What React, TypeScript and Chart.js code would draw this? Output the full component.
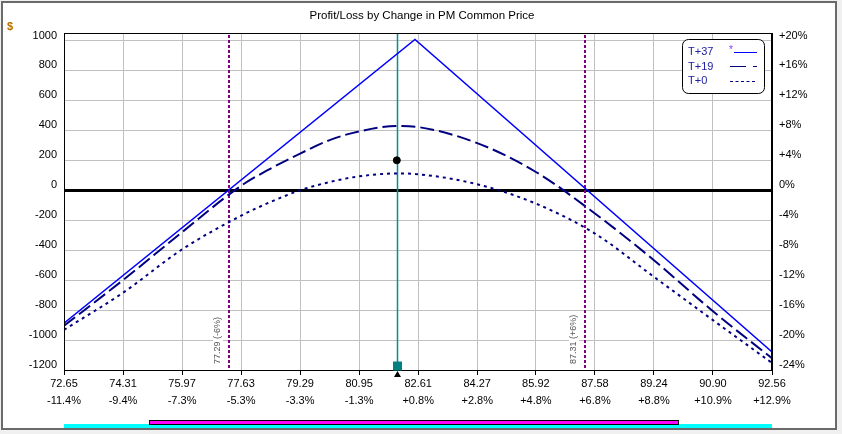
import { useEffect, useRef } from 'react';
import { Chart, registerables } from 'chart.js';

Chart.register(...registerables);

const chartTitle = 'Profit/Loss by Change in PM Common Price';
const yUnitLabel = '$';

const xTickValues = [72.65, 74.31, 75.97, 77.63, 79.29, 80.95, 82.61, 84.27, 85.92, 87.58, 89.24, 90.9, 92.56];
const xTickPrices = ['72.65', '74.31', '75.97', '77.63', '79.29', '80.95', '82.61', '84.27', '85.92', '87.58', '89.24', '90.90', '92.56'];
const xTickPercents = ['-11.4%', '-9.4%', '-7.3%', '-5.3%', '-3.3%', '-1.3%', '+0.8%', '+2.8%', '+4.8%', '+6.8%', '+8.8%', '+10.9%', '+12.9%'];

const yTickValues = [-1200, -1000, -800, -600, -400, -200, 0, 200, 400, 600, 800, 1000];
const y2TickLabels = ['-24%', '-20%', '-16%', '-12%', '-8%', '-4%', '0%', '+4%', '+8%', '+12%', '+16%', '+20%'];

const seriesNames = ['T+37', 'T+19', 'T+0'];

const t37Prices = [72.65, 82.52, 92.56];
const t37Values = [-888, 1007, -1080];

const curvePrices = [72.65, 74.31, 75.97, 77.63, 78.46, 79.29, 80.12, 80.95, 82.01, 82.61, 84.27, 85.92, 87.58, 89.24, 90.9, 92.56];
const t19Values = [-905, -600, -280, 30, 145, 245, 335, 393, 429, 422, 315, 122, -155, -467, -808, -1122];
const t0Values = [-932, -684, -395, -170, -78, 0, 55, 93, 112, 107, 40, -89, -289, -578, -867, -1153];

const currentPrice = 82.01;
const currentPL = 200;
const sigmaPrices = [77.29, 87.31];
const sigmaLabels = ['77.29 (-6%)', '87.31 (+6%)'];
const magentaRange = [75.04, 89.94];
const cyanRange = [72.65, 92.56];

const FONT = '"Liberation Sans", Arial, sans-serif';

const decorPlugin = {
  id: 'decor',
  beforeDraw(chart: any) {
    const ctx = chart.ctx;
    ctx.save();
    ctx.fillStyle = '#f0f0f0';
    ctx.fillRect(0, 0, chart.width, chart.height);
    ctx.fillStyle = '#ffffff';
    ctx.fillRect(2, 2, 834, 427);
    ctx.strokeStyle = '#6a6a6a';
    ctx.lineWidth = 2;
    ctx.strokeRect(2, 2, 834, 427);
    ctx.restore();
  },
  beforeDatasetsDraw(chart: any) {
    const { ctx, chartArea: a, scales } = chart;
    const x = scales.x;
    ctx.save();
    ctx.strokeStyle = '#800080';
    ctx.lineWidth = 2;
    ctx.setLineDash([3, 2]);
    sigmaPrices.forEach((p) => {
      const px = Math.round(x.getPixelForValue(p));
      ctx.beginPath();
      ctx.moveTo(px, a.top + 2);
      ctx.lineTo(px, a.bottom);
      ctx.stroke();
    });
    ctx.setLineDash([]);
    ctx.font = '9px ' + FONT;
    sigmaPrices.forEach((p, i) => {
      const px = x.getPixelForValue(p);
      ctx.save();
      ctx.translate(Math.round(px) - 11, a.bottom - 6);
      ctx.rotate(-Math.PI / 2);
      const w = ctx.measureText(sigmaLabels[i]).width;
      ctx.fillStyle = '#ffffff';
      ctx.fillRect(-1, -5, w + 2, 10);
      ctx.fillStyle = '#555555';
      ctx.textAlign = 'left';
      ctx.textBaseline = 'middle';
      ctx.fillText(sigmaLabels[i], 0, 0);
      ctx.restore();
    });
    const cx = Math.round(x.getPixelForValue(currentPrice)) + 0.5;
    ctx.strokeStyle = '#009090';
    ctx.lineWidth = 1.5;
    ctx.beginPath();
    ctx.moveTo(cx, a.top);
    ctx.lineTo(cx, a.bottom);
    ctx.stroke();
    ctx.restore();
  },
  afterDraw(chart: any) {
    const { ctx, chartArea: a, scales } = chart;
    const x = scales.x;
    ctx.save();
    // plot frame
    ctx.strokeStyle = '#000';
    ctx.lineWidth = 1;
    ctx.strokeRect(a.left + 0.5, a.top + 0.5, a.right - a.left - 1, a.bottom - a.top);
    // title
    ctx.fillStyle = '#000';
    ctx.font = '11.5px ' + FONT;
    ctx.textAlign = 'center';
    ctx.textBaseline = 'middle';
    ctx.fillText(chartTitle, 422, 16);
    // unit
    ctx.fillStyle = '#b86e00';
    ctx.textAlign = 'left';
    ctx.font = 'bold 11px ' + FONT;
    ctx.fillText(yUnitLabel, 7, 27);
    // markers at current price
    const cx = Math.round(x.getPixelForValue(currentPrice)) + 0.5;
    ctx.fillStyle = '#008080';
    ctx.fillRect(cx - 4.5, a.bottom - 8.5, 9, 9);
    ctx.fillStyle = '#000';
    ctx.beginPath();
    ctx.moveTo(cx, a.bottom + 1);
    ctx.lineTo(cx + 3.5, a.bottom + 7);
    ctx.lineTo(cx - 3.5, a.bottom + 7);
    ctx.closePath();
    ctx.fill();
    // range bars
    const c1 = x.getPixelForValue(cyanRange[0]);
    const c2 = x.getPixelForValue(cyanRange[1]);
    ctx.fillStyle = '#00ffff';
    ctx.fillRect(c1, 424, c2 - c1, 4);
    const m1 = Math.round(x.getPixelForValue(magentaRange[0]));
    const m2 = Math.round(x.getPixelForValue(magentaRange[1]));
    ctx.fillStyle = '#ff00ff';
    ctx.fillRect(m1, 420, m2 - m1, 4);
    ctx.strokeStyle = '#000';
    ctx.strokeRect(m1 + 0.5, 420.5, m2 - m1 - 1, 4);
    // legend
    ctx.fillStyle = '#fff';
    ctx.strokeStyle = '#000';
    ctx.beginPath();
    ctx.roundRect(682.5, 39.5, 82, 54, 6);
    ctx.fill();
    ctx.stroke();
    ctx.font = '11px ' + FONT;
    ctx.textAlign = 'left';
    ctx.textBaseline = 'middle';
    ctx.fillStyle = '#2020a0';
    const rows = [52, 66.5, 81];
    seriesNames.forEach((n, i) => ctx.fillText(n, 688, rows[i]));
    ctx.fillStyle = '#8040ff';
    ctx.font = '10px ' + FONT;
    ctx.fillText('*', 729, 50);
    ctx.lineWidth = 1;
    ctx.strokeStyle = '#0000ff';
    ctx.beginPath();
    ctx.moveTo(734, 52.5);
    ctx.lineTo(757, 52.5);
    ctx.stroke();
    ctx.strokeStyle = '#000080';
    ctx.beginPath();
    ctx.moveTo(730, 66.5);
    ctx.lineTo(746, 66.5);
    ctx.moveTo(753, 66.5);
    ctx.lineTo(757, 66.5);
    ctx.stroke();
    ctx.setLineDash([3, 2.5]);
    ctx.beginPath();
    ctx.moveTo(730, 81.5);
    ctx.lineTo(757, 81.5);
    ctx.stroke();
    ctx.restore();
  },
};

export default function App() {
  const ref = useRef<HTMLCanvasElement | null>(null);
  useEffect(() => {
    if (!ref.current) return;
    const chart = new Chart(ref.current, {
      type: 'line',
      data: {
        datasets: [
          {
            label: seriesNames[0],
            data: t37Prices.map((p, i) => ({ x: p, y: t37Values[i] })),
            borderColor: '#0000ff',
            borderWidth: 1.5,
            pointRadius: 0,
            tension: 0,
          },
          {
            label: seriesNames[1],
            data: curvePrices.map((p, i) => ({ x: p, y: t19Values[i] })),
            borderColor: '#000080',
            borderWidth: 2,
            borderDash: [14, 5],
            pointRadius: 0,
            cubicInterpolationMode: 'monotone',
          },
          {
            label: seriesNames[2],
            data: curvePrices.map((p, i) => ({ x: p, y: t0Values[i] })),
            borderColor: '#000080',
            borderWidth: 2,
            borderDash: [3, 4],
            pointRadius: 0,
            cubicInterpolationMode: 'monotone',
          },
          {
            label: 'Now',
            data: [{ x: currentPrice, y: currentPL }],
            showLine: false,
            pointRadius: 3.5,
            pointBackgroundColor: '#000',
            pointBorderColor: '#000',
          },
        ],
      } as any,
      options: {
        animation: false,
        responsive: false,
        devicePixelRatio: 1,
        events: [],
        layout: { padding: { top: 33, left: 0, right: 10, bottom: 24 } },
        plugins: { legend: { display: false }, tooltip: { enabled: false }, title: { display: false } },
        scales: {
          x: {
            type: 'linear',
            min: 72.65,
            max: 92.56,
            afterBuildTicks: (s: any) => {
              s.ticks = xTickValues.map((v) => ({ value: v }));
            },
            afterFit: (s: any) => {
              s.height = 40;
            },
            ticks: {
              autoSkip: false,
              maxRotation: 0,
              padding: 0,
              color: '#000',
              font: { family: FONT, size: 11, lineHeight: '17px' },
              callback: (_v: any, i: number) => [xTickPrices[i], xTickPercents[i]],
            },
            grid: { color: '#c0c0c0', tickColor: '#000', tickLength: 5, drawTicks: true },
            border: { color: '#000' },
          },
          y: {
            type: 'linear',
            position: 'left',
            min: -1200,
            max: 1050,
            afterBuildTicks: (s: any) => {
              s.ticks = yTickValues.map((v) => ({ value: v }));
            },
            afterFit: (s: any) => {
              s.width = 64;
            },
            ticks: {
              padding: 7,
              labelOffset: -5,
              color: '#000',
              font: { family: FONT, size: 11 },
              callback: (v: any) => String(v),
            },
            grid: {
              drawTicks: false,
              color: (c: any) => (c.tick && c.tick.value === 0 ? '#000' : '#c0c0c0'),
              lineWidth: (c: any) => (c.tick && c.tick.value === 0 ? 3 : 1),
            },
            border: { color: '#000' },
          },
          y2: {
            type: 'linear',
            position: 'right',
            min: -1200,
            max: 1050,
            afterBuildTicks: (s: any) => {
              s.ticks = yTickValues.map((v) => ({ value: v }));
            },
            afterFit: (s: any) => {
              s.width = 60;
            },
            ticks: {
              padding: 7,
              labelOffset: -5,
              color: '#000',
              font: { family: FONT, size: 11 },
              callback: (_v: any, i: number) => y2TickLabels[i],
            },
            grid: { drawOnChartArea: false, drawTicks: false },
            border: { color: '#000' },
          },
        },
      } as any,
      plugins: [decorPlugin],
    });
    return () => chart.destroy();
  }, []);
  return (
    <canvas
      ref={ref}
      width={842}
      height={434}
      style={{ position: 'fixed', left: 0, top: 0, display: 'block' }}
    />
  );
}
